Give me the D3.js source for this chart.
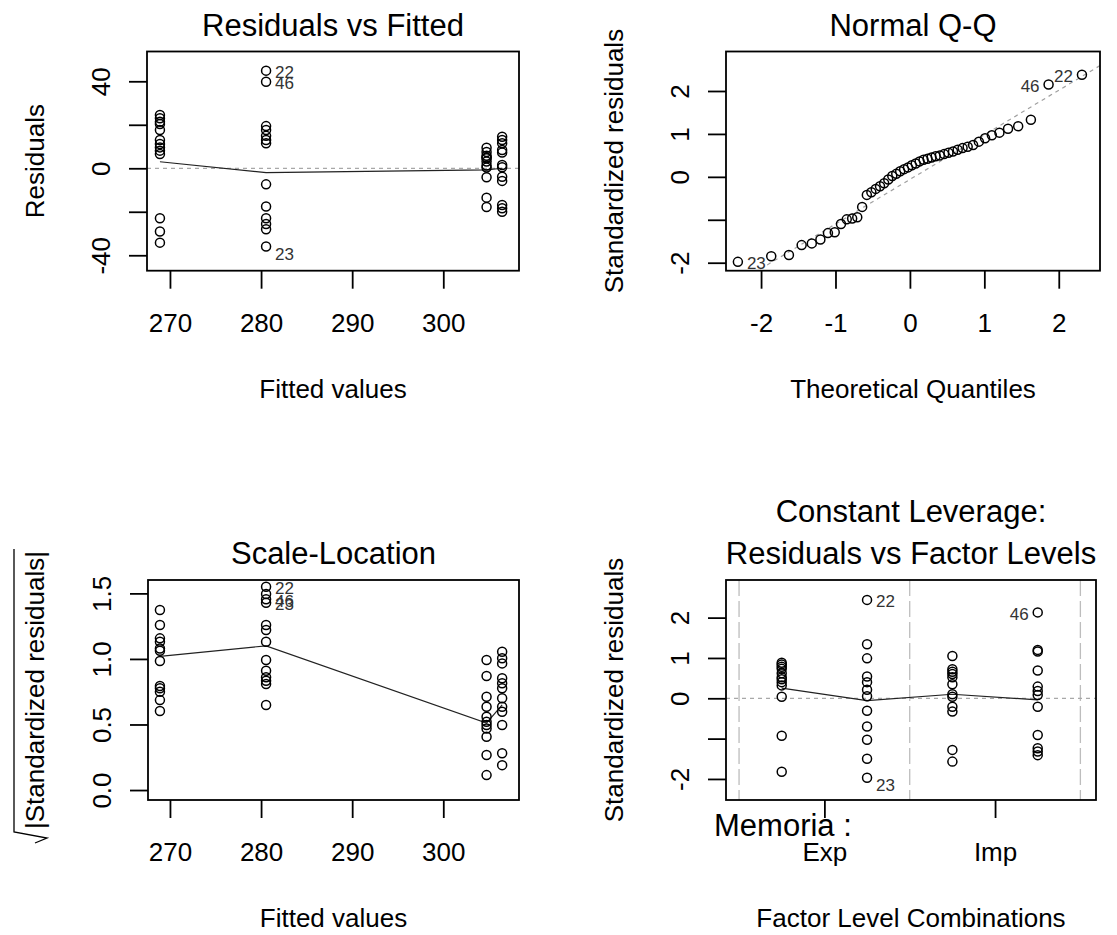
<!DOCTYPE html>
<html>
<head>
<meta charset="utf-8">
<script src="https://cdn.jsdelivr.net/npm/d3@7"></script>
<style>
  body { margin: 0; background: #fff; }
  svg { display: block; font-family: "Liberation Sans", Arial, sans-serif; }
  .axis text { font-family: "Liberation Sans", Arial, sans-serif; font-size: 26px; fill: #000; }
  .axis line { stroke: #000; stroke-width: 1.8; }
  .axis path { display: none; }
</style>
</head>
<body>
<script>
// fitted value of each cell (x of "Residuals vs Fitted" and "Scale-Location")
const fittedGroups = [268.9, 280.55, 304.75, 306.46];

// Residuals vs Fitted: raw residuals, one list per fitted group
const residA = [24.5, 23.0, 21.4, 20.4, 17.6, 13.0, 11.2, 9.6, 8.1, 6.6, -23.0, -29.1, -34.2];
const residB = [44.9, 39.8, 19.4, 17.6, 14.9, 13.0, 11.5, -7.4, -17.6, -23.0, -25.6, -28.0, -36.0];
const residC = [9.4, 7.5, 5.8, 5.0, 4.6, 3.1, 1.3, 0.3, -4.1, -13.5, -17.8];
const residD = [14.5, 13.0, 11.5, 8.4, 7.2, 1.5, 0.5, -3.9, -5.8, -16.9, -18.4, -20.0];
const residSmooth = [3.0, -2.0, -0.7, 0.0];
const residLabels = [{ group: 1, value: 44.9, id: "22" }, { group: 1, value: 39.8, id: "46" }, { group: 1, value: -36.0, id: "23" }];

// Normal Q-Q: sorted standardized residuals
const qqStdResid = [-1.98, -1.85, -1.82, -1.59, -1.55, -1.46, -1.31, -1.29, -1.10, -0.99, -0.97, -0.94,
  -0.70, -0.42, -0.36, -0.28, -0.22, -0.15, -0.06, 0.02, 0.07, 0.13, 0.18, 0.22,
  0.27, 0.31, 0.36, 0.40, 0.42, 0.45, 0.48, 0.50, 0.53, 0.56, 0.59, 0.63,
  0.67, 0.70, 0.74, 0.82, 0.90, 0.97, 1.03, 1.12, 1.18, 1.33, 2.15, 2.38];
const qqLabels = [{ rank: 1, id: "23" }, { rank: 47, id: "46" }, { rank: 48, id: "22" }];

// Scale-Location: sqrt(|standardized residuals|) per fitted group
const sqrtA = [1.373, 1.259, 1.157, 1.131, 1.08, 1.063, 0.984, 0.793, 0.776, 0.75, 0.686, 0.603];
const sqrtB = [1.551, 1.495, 1.455, 1.429, 1.259, 1.22, 1.131, 0.992, 0.91, 0.86, 0.834, 0.809, 0.648];
const sqrtC = [0.992, 0.87, 0.712, 0.635, 0.559, 0.521, 0.496, 0.47, 0.407, 0.267, 0.114];
const sqrtD = [1.055, 1.005, 0.966, 0.852, 0.814, 0.776, 0.7, 0.635, 0.597, 0.496, 0.28, 0.19];
const slSmooth = [1.02, 1.10, 0.51, 0.65];
const slLabels = [{ group: 1, value: 1.551, id: "22" }, { group: 1, value: 1.455, id: "46" }, { group: 1, value: 1.429, id: "23" }];

// Residuals vs Factor Levels: standardized residuals per factor level combination
const memoriaLevels = ["Exp", "Imp"];
const cell1 = [0.88, 0.84, 0.78, 0.73, 0.62, 0.52, 0.47, 0.40, 0.32, 0.04, -0.93, -1.82];
const cell2 = [2.44, 1.34, 0.99, 0.54, 0.40, 0.21, 0.05, -0.31, -0.70, -1.03, -1.50, -1.97];
const cell3 = [1.05, 0.72, 0.66, 0.60, 0.52, 0.35, 0.10, 0.04, -0.21, -0.33, -1.28, -1.57];
const cell4 = [2.13, 1.20, 1.16, 0.69, 0.29, 0.18, 0.08, -0.21, -0.91, -1.24, -1.32, -1.41];
const cellSmooth = [0.25, -0.06, 0.10, -0.04];
const cellLabels = [{ cell: 2, value: 2.44, id: "22" }, { cell: 2, value: -1.97, id: "23" }, { cell: 4, value: 2.13, id: "46" }];

const W = 1117, H = 935;
const R = 4.5;

const svg = d3.select("body").append("svg").attr("width", W).attr("height", H);
svg.append("rect").attr("width", W).attr("height", H).attr("fill", "#fff");

// inverse normal cdf (Abramowitz & Stegun 26.2.23)
const qnorm = (p) => {
  const q = p < 0.5 ? p : 1 - p;
  const t = Math.sqrt(-2 * Math.log(q));
  const z = t - (2.515517 + 0.802853 * t + 0.010328 * t * t) / (1 + 1.432788 * t + 0.189269 * t * t + 0.001308 * t * t * t);
  return p < 0.5 ? -z : z;
};

// plain hyphen minus, like R
const plain = (d) => String(d);

const makePanel = (cfg) => {
  const p = Object.assign({}, cfg);
  p.x = d3.scaleLinear().domain(cfg.xDomain).range([cfg.left, cfg.right]);
  p.y = d3.scaleLinear().domain(cfg.yDomain).range([cfg.bottom, cfg.top]);
  p.g = svg.append("g");
  p.g.append("clipPath").attr("id", "clip-" + cfg.id)
    .append("rect")
    .attr("x", cfg.left).attr("y", cfg.top)
    .attr("width", cfg.right - cfg.left).attr("height", cfg.bottom - cfg.top);
  p.lines = p.g.append("g").attr("clip-path", `url(#clip-${cfg.id})`);

  // axes
  p.g.append("g").attr("class", "axis")
    .attr("transform", `translate(0,${cfg.bottom})`)
    .call(d3.axisBottom(p.x).tickValues(cfg.xTicks).tickFormat(cfg.xFmt).tickSize(18).tickPadding(25));
  p.g.append("g").attr("class", "axis")
    .attr("transform", `translate(${cfg.left},0)`)
    .call(d3.axisLeft(p.y).tickValues(cfg.yTicks).tickFormat(cfg.yFmt).tickSize(18))
    .selectAll(".tick text")
    .attr("transform", "rotate(-90)")
    .attr("x", 0).attr("y", -37).attr("dy", 0)
    .attr("text-anchor", "middle");

  // frame
  p.g.append("rect")
    .attr("x", cfg.left).attr("y", cfg.top)
    .attr("width", cfg.right - cfg.left).attr("height", cfg.bottom - cfg.top)
    .attr("fill", "none").attr("stroke", "#000").attr("stroke-width", 1.8);

  // titles
  const cx = (cfg.left + cfg.right) / 2;
  cfg.title.forEach((line, i) => {
    p.g.append("text")
      .attr("x", cx).attr("y", cfg.top - 16 - (cfg.title.length - 1 - i) * 42)
      .attr("text-anchor", "middle").attr("font-size", 31)
      .text(line);
  });
  p.g.append("text")
    .attr("x", cx).attr("y", cfg.bottom + 127)
    .attr("text-anchor", "middle").attr("font-size", 26)
    .text(cfg.xLabel);
  if (cfg.yLabel) {
    p.g.append("text")
      .attr("transform", `translate(${cfg.left - 103},${(cfg.top + cfg.bottom) / 2}) rotate(-90)`)
      .attr("text-anchor", "middle").attr("font-size", 26)
      .text(cfg.yLabel);
  }
  return p;
};

const hline = (p, v) => {
  p.lines.append("line")
    .attr("x1", p.left).attr("x2", p.right)
    .attr("y1", p.y(v)).attr("y2", p.y(v))
    .attr("stroke", "#a8a8a8").attr("stroke-width", 1.2).attr("stroke-dasharray", "4,4");
};

const drawPoints = (p, pts) => {
  p.g.append("g").selectAll("circle")
    .data(pts)
    .enter()
    .append("circle")
    .attr("cx", (d) => p.x(d[0]))
    .attr("cy", (d) => p.y(d[1]))
    .attr("r", R)
    .attr("fill", "none")
    .attr("stroke", "#000")
    .attr("stroke-width", 1.5);
};

const drawSmooth = (p, xs, ys) => {
  p.lines.append("path")
    .datum(xs.map((v, i) => [v, ys[i]]))
    .attr("d", d3.line().x((d) => p.x(d[0])).y((d) => p.y(d[1])))
    .attr("fill", "none").attr("stroke", "#222").attr("stroke-width", 1.2);
};

const drawLabels = (p, labs) => {
  const mid = (p.xDomain[0] + p.xDomain[1]) / 2;
  p.g.append("g").selectAll("text")
    .data(labs)
    .enter()
    .append("text")
    .attr("x", (d) => p.x(d.x) + (d.x < mid ? 9 : -9))
    .attr("y", (d) => p.y(d.y) + (d.y < 0 && p.shiftNeg ? 8 : 2))
    .attr("dominant-baseline", "central")
    .attr("text-anchor", (d) => (d.x < mid ? "start" : "end"))
    .attr("font-size", 17).attr("fill", "#333")
    .text((d) => d.id);
};

const groupPoints = (groups) => {
  const pts = [];
  groups.forEach((vals, gi) => vals.forEach((v) => pts.push([fittedGroups[gi], v])));
  return pts;
};

// ---- Residuals vs Fitted
const p1 = makePanel({
  id: "p1", left: 147, right: 519, top: 51.5, bottom: 270.7,
  xDomain: [267.48, 308.31], yDomain: [-47.1, 53.7],
  xTicks: [270, 280, 290, 300], xFmt: plain,
  yTicks: [-40, -20, 0, 20, 40], yFmt: (d) => (d % 40 === 0 ? plain(d) : ""),
  title: ["Residuals vs Fitted"], xLabel: "Fitted values", yLabel: "Residuals", shiftNeg: true
});
hline(p1, 0);
drawSmooth(p1, fittedGroups, residSmooth);
drawPoints(p1, groupPoints([residA, residB, residC, residD]));
drawLabels(p1, residLabels.map((d) => ({ x: fittedGroups[d.group], y: d.value, id: d.id })));

// ---- Normal Q-Q
const n = qqStdResid.length;
const theo = qqStdResid.map((v, i) => qnorm((i + 1 - 0.5) / n));
const p2 = makePanel({
  id: "p2", left: 726, right: 1100, top: 51.5, bottom: 270.7,
  xDomain: [-2.471, 2.554], yDomain: [-2.186, 2.92],
  xTicks: [-2, -1, 0, 1, 2], xFmt: plain,
  yTicks: [-2, -1, 0, 1, 2], yFmt: (d) => (d === -1 ? "" : plain(d)),
  title: ["Normal Q-Q"], xLabel: "Theoretical Quantiles", yLabel: "Standardized residuals"
});
{
  const y1 = d3.quantile(qqStdResid, 0.25), y3 = d3.quantile(qqStdResid, 0.75);
  const x1 = qnorm(0.25), x3 = qnorm(0.75);
  const slope = (y3 - y1) / (x3 - x1), icpt = y1 - slope * x1;
  const [a, b] = p2.xDomain;
  p2.lines.append("line")
    .attr("x1", p2.x(a)).attr("y1", p2.y(icpt + slope * a))
    .attr("x2", p2.x(b)).attr("y2", p2.y(icpt + slope * b))
    .attr("stroke", "#a0a0a0").attr("stroke-width", 1.2).attr("stroke-dasharray", "4,4");
}
drawPoints(p2, qqStdResid.map((v, i) => [theo[i], v]));
drawLabels(p2, qqLabels.map((d) => ({ x: theo[d.rank - 1], y: qqStdResid[d.rank - 1], id: d.id })));

// ---- Scale-Location
const p3 = makePanel({
  id: "p3", left: 148, right: 519, top: 580, bottom: 800,
  xDomain: [267.59, 308.31], yDomain: [-0.076, 1.602],
  xTicks: [270, 280, 290, 300], xFmt: plain,
  yTicks: [0, 0.5, 1, 1.5], yFmt: d3.format(".1f"),
  title: ["Scale-Location"], xLabel: "Fitted values", yLabel: null
});
{
  const yl = p3.g.append("g")
    .attr("transform", `translate(${p3.left - 104},${(p3.top + p3.bottom) / 2}) rotate(-90)`);
  const t = yl.append("text").attr("text-anchor", "middle").attr("font-size", 26)
    .text("|Standardized residuals|");
  const w = t.node().getComputedTextLength();
  yl.append("path")
    .attr("d", `M${-w / 2 - 14},-9 L${-w / 2 - 9},3 L${-w / 2 - 3},-30 L${w / 2 + 2},-30`)
    .attr("fill", "none").attr("stroke", "#000").attr("stroke-width", 1.3);
}
drawSmooth(p3, fittedGroups, slSmooth);
drawPoints(p3, groupPoints([sqrtA, sqrtB, sqrtC, sqrtD]));
drawLabels(p3, slLabels.map((d) => ({ x: fittedGroups[d.group], y: d.value, id: d.id })));

// ---- Constant Leverage: Residuals vs Factor Levels
const cells = [cell1, cell2, cell3, cell4];
const cellPos = cells.map((c, i) => i + 1);
const p4 = makePanel({
  id: "p4", left: 726, right: 1096, top: 580, bottom: 800,
  xDomain: [0.347, 4.683], yDomain: [-2.522, 2.933],
  xTicks: memoriaLevels.map((m, i) => 2 * i + 1.5), xFmt: (d, i) => memoriaLevels[i],
  yTicks: [-2, -1, 0, 1, 2], yFmt: (d) => (d === -1 ? "" : plain(d)),
  title: ["Constant Leverage:", "Residuals vs Factor Levels"],
  xLabel: "Factor Level Combinations", yLabel: "Standardized residuals", shiftNeg: true
});
[0.5, 2.5, 4.5].forEach((v) => {
  p4.lines.append("line")
    .attr("x1", p4.x(v)).attr("x2", p4.x(v))
    .attr("y1", p4.top).attr("y2", p4.bottom)
    .attr("stroke", "#bdbdbd").attr("stroke-width", 1.3).attr("stroke-dasharray", "16,5");
});
hline(p4, 0);
drawSmooth(p4, cellPos, cellSmooth);
{
  const pts = [];
  cells.forEach((vals, i) => vals.forEach((v) => pts.push([cellPos[i], v])));
  drawPoints(p4, pts);
}
drawLabels(p4, cellLabels.map((d) => ({ x: d.cell, y: d.value, id: d.id })));
p4.g.append("text")
  .attr("x", p4.left - 12).attr("y", p4.bottom + 36)
  .attr("font-size", 31)
  .text("Memoria :");
</script>
</body>
</html>
